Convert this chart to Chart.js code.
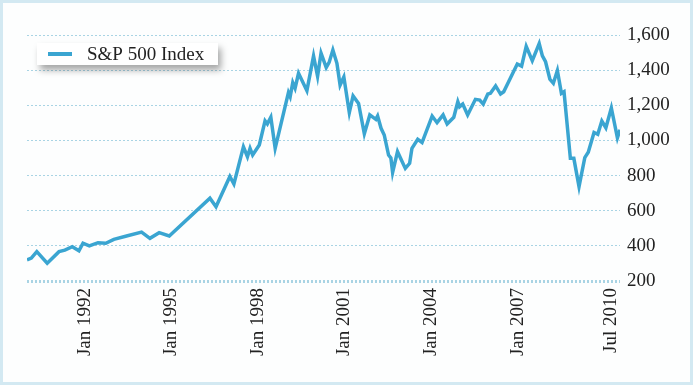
<!DOCTYPE html>
<html>
<head>
<meta charset="utf-8">
<script src="https://cdn.jsdelivr.net/npm/chart.js@4.4.1/dist/chart.umd.min.js"></script>
<style>
  html, body { margin: 0; padding: 0; background: #fff; }
  #frame {
    width: 693px; height: 385px; box-sizing: border-box;
    border: 3px solid #d3e9f2; background: #fdfefe;
  }
  canvas { display: block; }
</style>
</head>
<body>
<div id="frame"><canvas id="spChart" width="687" height="379"></canvas></div>
<script>
// S&P 500 monthly-ish closes (x = decimal year)
const years = [
  1990.00, 1990.15, 1990.34, 1990.70, 1991.11, 1991.31, 1991.57, 1991.80, 1991.94, 1992.16,
  1992.46, 1992.73, 1993.01, 1993.45, 1993.97, 1994.26, 1994.58, 1994.93, 1996.34, 1996.55,
  1997.03, 1997.17, 1997.50, 1997.64, 1997.73, 1997.82, 1998.05, 1998.25, 1998.33, 1998.45,
  1998.60, 1999.06, 1999.12, 1999.21, 1999.29, 1999.41, 1999.70, 1999.93, 2000.07, 2000.19,
  2000.37, 2000.47, 2000.60, 2000.74, 2000.85, 2000.98, 2001.17, 2001.30, 2001.49, 2001.69,
  2001.88, 2002.09, 2002.15, 2002.27, 2002.38, 2002.53, 2002.61, 2002.67, 2002.84, 2003.11,
  2003.26, 2003.34, 2003.54, 2003.69, 2004.04, 2004.21, 2004.42, 2004.56, 2004.79, 2004.93,
  2004.99, 2005.10, 2005.27, 2005.54, 2005.69, 2005.81, 2005.97, 2006.06, 2006.24, 2006.41,
  2006.52, 2006.99, 2007.14, 2007.30, 2007.51, 2007.75, 2007.86, 2007.97, 2008.12, 2008.24,
  2008.38, 2008.52, 2008.61, 2008.83, 2008.95, 2009.13, 2009.33, 2009.45, 2009.65, 2009.78,
  2009.92, 2010.06, 2010.25, 2010.46, 2010.55
];
const closes = [
  320, 330, 367, 301, 367, 376, 395, 372, 415, 400,
  418, 415, 437, 456, 478, 443, 475, 456, 671, 623,
  795, 752, 964, 907, 955, 917, 974, 1112, 1094, 1132,
  955, 1272, 1249, 1329, 1297, 1382, 1283, 1481, 1365, 1497,
  1415, 1444, 1515, 1439, 1315, 1361, 1158, 1253, 1211, 1038,
  1145, 1120, 1139, 1069, 1031, 917, 900, 818, 936, 841,
  870, 955, 1006, 988, 1139, 1101, 1145, 1094, 1132, 1220,
  1192, 1207, 1145, 1234, 1230, 1207, 1264, 1268, 1310, 1264,
  1277, 1435, 1423, 1535, 1454, 1551, 1481, 1448, 1348, 1325,
  1398, 1268, 1277, 898, 898, 737, 902, 933, 1045, 1035,
  1110, 1072, 1185, 1015, 1061
];

// x tick positions and their labels
const tickYears = [1992, 1995, 1998, 2001, 2004, 2007, 2010.25];
const tickLabels = ['Jan 1992', 'Jan 1995', 'Jan 1998', 'Jan 2001', 'Jan 2004', 'Jan 2007', 'Jul 2010'];

const seriesName = 'S&P 500 Index';
const lineColor = '#3aa5d1';
const gridColor = '#a9d4e4';
const serif = "'Liberation Serif', 'Times New Roman', serif";

// white legend card with a soft drop shadow
const legendCard = {
  id: 'legendCard',
  afterDraw(chart) {
    const ctx = chart.ctx;
    const a = chart.chartArea;
    const x = a.left + 10, y = a.top + 8, w = 181, h = 22;
    ctx.save();
    ctx.shadowColor = 'rgba(0,0,0,0.35)';
    ctx.shadowBlur = 7;
    ctx.shadowOffsetX = 3;
    ctx.shadowOffsetY = 5;
    ctx.fillStyle = '#ffffff';
    ctx.fillRect(x, y, w, h);
    ctx.restore();

    ctx.save();
    ctx.strokeStyle = lineColor;
    ctx.lineWidth = 4;
    ctx.beginPath();
    ctx.moveTo(x + 11, y + 11);
    ctx.lineTo(x + 35, y + 11);
    ctx.stroke();
    ctx.fillStyle = '#222';
    ctx.font = '19px ' + serif;
    ctx.textBaseline = 'middle';
    ctx.fillText(chart.data.datasets[0].label, x + 50, y + 12);
    ctx.restore();
  }
};

const ctx = document.getElementById('spChart').getContext('2d');
new Chart(ctx, {
  type: 'line',
  data: {
    datasets: [{
      label: seriesName,
      data: years.map((yr, i) => ({ x: yr, y: closes[i] })),
      borderColor: lineColor,
      borderWidth: 3.5,
      pointRadius: 0,
      tension: 0,
      fill: false
    }]
  },
  plugins: [legendCard],
  options: {
    responsive: false,
    animation: false,
    layout: { padding: { left: 24, top: 32, right: 0, bottom: 0 } },
    plugins: {
      legend: { display: false },
      tooltip: { enabled: false }
    },
    scales: {
      x: {
        type: 'linear',
        min: years[0],
        max: years[years.length - 1],
        grid: { display: false, drawTicks: false },
        border: { display: false },
        afterBuildTicks: scale => { scale.ticks = tickYears.map(v => ({ value: v })); },
        afterFit: scale => { scale.height = 101; },
        ticks: {
          autoSkip: false,
          minRotation: 90,
          maxRotation: 90,
          padding: 7,
          color: '#222',
          font: { family: serif, size: 19 },
          callback: (v, i) => tickLabels[i]
        }
      },
      y: {
        position: 'right',
        min: 200,
        max: 1600,
        grid: {
          color: gridColor,
          lineWidth: c => c.tick && c.tick.value === 200 ? 3 : 1,
          drawTicks: false
        },
        border: { display: false, dash: [2, 2] },
        afterFit: scale => { scale.width = 70; },
        ticks: {
          stepSize: 200,
          padding: 7,
          color: '#222',
          font: { family: serif, size: 19 },
          callback: v => v.toLocaleString('en-US')
        }
      }
    }
  }
});
</script>
</body>
</html>
